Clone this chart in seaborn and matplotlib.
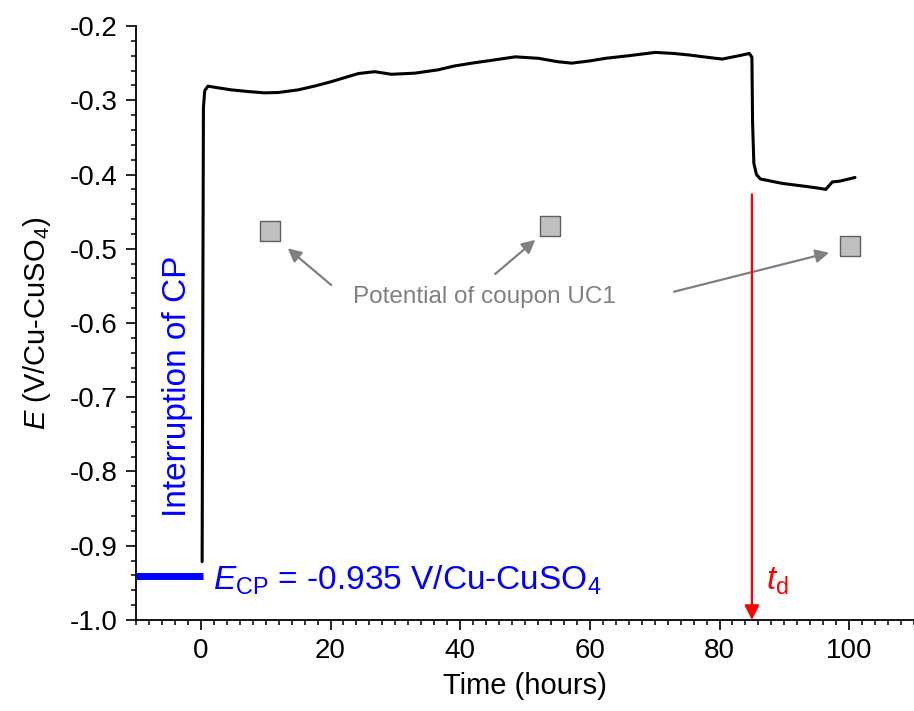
import numpy as np
import pandas as pd
import matplotlib
matplotlib.use("Agg")
import matplotlib.pyplot as plt
from matplotlib.ticker import MultipleLocator, FormatStrFormatter
import seaborn as sns

# ---- data ----
time_h = [0.2, 0.3, 0.4, 0.6, 1.1, 2.5, 4.7, 7.0, 9.8, 12.0, 15.0, 17.5, 20.1, 22.0,
          24.3, 26.8, 29.4, 33.0, 36.6, 39.0, 41.8, 45.0, 48.5, 52.1, 55.0, 57.2,
          60.0, 62.4, 66.0, 70.1, 73.0, 75.3, 78.0, 80.4, 83.0, 84.6, 85.0, 85.1,
          85.3, 85.7, 86.3, 88.0, 89.7, 91.5, 93.3, 95.0, 96.4, 96.8, 97.4, 98.5,
          99.5, 100.9]
potential_V = [-0.9215, -0.60, -0.31, -0.287, -0.281, -0.283, -0.286, -0.288, -0.290,
               -0.2895, -0.286, -0.281, -0.275, -0.270, -0.264, -0.2615, -0.265,
               -0.2635, -0.259, -0.254, -0.250, -0.246, -0.2415, -0.2435, -0.248,
               -0.250, -0.247, -0.2435, -0.240, -0.2355, -0.237, -0.239, -0.242,
               -0.2445, -0.240, -0.237, -0.242, -0.33, -0.385, -0.400, -0.406,
               -0.409, -0.412, -0.414, -0.416, -0.418, -0.420, -0.416, -0.410,
               -0.409, -0.407, -0.404]

coupon_t = [10.6, 53.9, 100.2]
coupon_E = [-0.476, -0.4694, -0.496]

cp_t = [-10.5, 0.3]
cp_E = [-0.9407, -0.9407]

td_hours = 85.0

x_ticks = [0, 20, 40, 60, 80, 100]
y_ticks = [-1.0, -0.9, -0.8, -0.7, -0.6, -0.5, -0.4, -0.3, -0.2]

# ---- style ----
sns.set_theme(style="ticks")
plt.rcParams['font.family'] = ['Liberation Sans', 'DejaVu Sans']
plt.rcParams['axes.unicode_minus'] = False
plt.rcParams['mathtext.fontset'] = 'custom'
plt.rcParams['mathtext.rm'] = 'Liberation Sans'
plt.rcParams['mathtext.it'] = 'Liberation Sans:italic'
plt.rcParams['mathtext.bf'] = 'Liberation Sans:bold'
plt.rcParams['text.color'] = 'black'
plt.rcParams['axes.labelcolor'] = 'black'
plt.rcParams['xtick.color'] = 'black'
plt.rcParams['ytick.color'] = 'black'

fig = plt.figure(figsize=(9.14, 7.11), dpi=100)
ax = fig.add_axes([0.1488, 0.128, 0.8512, 0.8354])

df = pd.DataFrame({"t": time_h, "E": potential_V})
sns.lineplot(data=df, x="t", y="E", sort=False, estimator=None, color="black",
             linewidth=2.2, ax=ax, zorder=3)

cp = pd.DataFrame({"t": cp_t, "E": cp_E})
sns.lineplot(data=cp, x="t", y="E", sort=False, estimator=None, color="#0000ff",
             linewidth=5, ax=ax, solid_capstyle="butt", zorder=3)

cpn = pd.DataFrame({"t": coupon_t, "E": coupon_E})
sns.scatterplot(data=cpn, x="t", y="E", marker="s", s=200, color="#c0c0c0",
                edgecolor="#606060", linewidth=1.0, ax=ax, zorder=4)

ax.set_xlim(-10, 110)
ax.set_ylim(-1.0, -0.2)
ax.set_xticks(x_ticks)
ax.set_yticks(y_ticks)
ax.xaxis.set_minor_locator(MultipleLocator(2))
ax.yaxis.set_minor_locator(MultipleLocator(0.02))
ax.yaxis.set_major_formatter(FormatStrFormatter('%.1f'))
ax.tick_params(which='major', direction='out', length=7, width=1.2,
               labelsize=20, color='black', labelcolor='black', pad=6)
ax.tick_params(which='minor', direction='out', length=3.5, width=1.1, color='black')
for s in ['top', 'right']:
    ax.spines[s].set_visible(False)
for s in ['left', 'bottom']:
    ax.spines[s].set_linewidth(1.3)
    ax.spines[s].set_color('black')

ax.set_xlabel("Time (hours)", fontsize=21, labelpad=6, color='black')
ax.set_ylabel(r"$\mathit{E}$ (V/Cu-CuSO$_4$)", fontsize=21, labelpad=12, color='black')

# annotations
ax.text(-3.55, -0.6858, "Interruption of CP", rotation=90, ha='center', va='center',
        color='#0000ff', fontsize=24)
ax.text(1.8, -0.9596, r"$\mathit{E}_{\mathrm{CP}}$ = -0.935 V/Cu-CuSO$_4$",
        ha='left', va='baseline', color='#0000ff', fontsize=24)
ax.annotate("", xy=(td_hours, -1.0), xytext=(td_hours, -0.4267),
            arrowprops=dict(arrowstyle='-|>', color='#ff0000', lw=1.6,
                            mutation_scale=22, shrinkA=0, shrinkB=0), zorder=5)
ax.text(87.1, -0.9596, r"$\mathit{t}_{\mathrm{d}}$", ha='left', va='baseline',
        color='#ff0000', fontsize=24)

ax.text(43.7, -0.5646, "Potential of coupon UC1", ha='center', va='center',
        color='#808080', fontsize=17.5)
gray_arrow = dict(arrowstyle='-|>', color='#808080', lw=1.6, mutation_scale=20,
                  shrinkA=0, shrinkB=0)
ax.annotate("", xy=(13.4, -0.4994), xytext=(20.1, -0.5488), arrowprops=gray_arrow)
ax.annotate("", xy=(51.6, -0.488), xytext=(45.4, -0.534), arrowprops=gray_arrow)
ax.annotate("", xy=(96.9, -0.5053), xytext=(73.0, -0.5578), arrowprops=gray_arrow)

fig.savefig("out.png", dpi=100)
